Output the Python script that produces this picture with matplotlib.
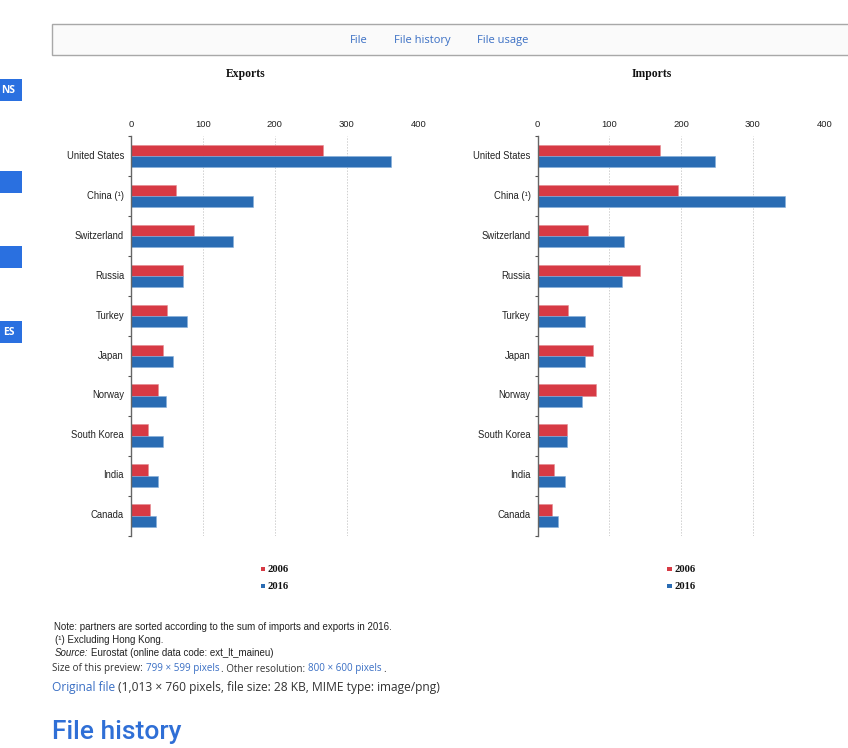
import matplotlib
matplotlib.use("Agg")
import matplotlib.pyplot as plt
from matplotlib.patches import Rectangle
import numpy as np

W, H = 848, 748
partners = ["United States", "China (¹)", "Switzerland", "Russia", "Turkey",
            "Japan", "Norway", "South Korea", "India", "Canada"]
exports_2006 = [267, 63, 88, 72, 50, 44, 38, 23, 24, 26]
exports_2016 = [362, 170, 142, 72, 78, 58, 48, 44, 37, 35]
imports_2006 = [171, 196, 71, 143, 42, 78, 82, 41, 23, 20]
imports_2016 = [247, 345, 121, 118, 66, 66, 62, 41, 38, 28]
x_ticks = [0, 100, 200, 300, 400]
RED, BLUE = "#d73a44", "#2a6cb3"
LINK = "#3a6fc4"

plt.rcParams["font.family"] = ["Liberation Sans", "DejaVu Sans"]
fig = plt.figure(figsize=(W / 100, H / 100), dpi=100, facecolor="white")

def px(x, y, s, size, **kw):
    kw.setdefault("va", "baseline")
    kw.setdefault("color", "#222222")
    fig.text(x / W, 1 - y / H, s, fontsize=size, **kw)

def box(x0, y0, x1, y1, **kw):
    fig.add_artist(Rectangle((x0 / W, 1 - y1 / H), (x1 - x0) / W, (y1 - y0) / H,
                             transform=fig.transFigure, **kw))

def panel(x0, x1, a, b, title):
    ax = fig.add_axes([x0 / W, 1 - 535.5 / H, (x1 - x0) / W, (535.5 - 136) / H])
    y = np.arange(len(partners))
    ax.barh(y - 0.14, a, 0.28, color=RED, edgecolor="#e58a90", linewidth=0.4)
    ax.barh(y + 0.14, b, 0.28, color=BLUE, edgecolor="#85aedb", linewidth=0.4)
    ax.set_xlim(0, 400)
    ax.set_ylim(9.5, -0.5)
    ax.set_xticks(x_ticks)
    ax.xaxis.tick_top()
    ax.tick_params(axis="x", length=0, pad=5, labelsize=6.8, colors="#222222")
    ax.set_yticks(np.arange(-0.5, 10, 1))
    ax.set_yticklabels([])
    ax.tick_params(axis="y", direction="out", length=2, width=0.8, color="#555555")
    for i, name in enumerate(partners):
        ax.annotate(name, (0, i), xycoords=("axes fraction", "data"), xytext=(-5, -2.0),
                    textcoords="offset points", ha="right", va="baseline",
                    fontsize=6.85, color="#222222")
    ax.grid(axis="x", color="#cfcfcf", linewidth=0.7, linestyle=(0, (1.5, 1.5)))
    ax.set_axisbelow(True)
    for s in ("top", "right", "bottom"):
        ax.spines[s].set_visible(False)
    ax.spines["left"].set_color("#666666")
    ax.spines["left"].set_linewidth(1)
    ax.patch.set_alpha(0)
    px(x0 + 114.5, 77, title, 8.4, ha="center", fontfamily="Liberation Serif",
       fontweight="bold", color="#111111")
    for yy, c, lab in [(569, RED, "2006"), (586, BLUE, "2016")]:
        box(x0 + 129.5, yy - 2, x0 + 134, yy + 2, color=c, lw=0)
        px(x0 + 137, yy + 3, lab, 7.6, fontfamily="Liberation Serif",
           fontweight="bold", color="#111111")

panel(131, 418.5, exports_2006, exports_2016, "Exports")
panel(537.5, 824.5, imports_2006, imports_2016, "Imports")

# Surrounding page
box(52, 23.5, 860, 54.5, facecolor="#fafafa", edgecolor="#a8a8a8", linewidth=1)
for x, s in [(359, "File"), (422.5, "File history"), (503, "File usage")]:
    px(x, 43, s, 8.05, ha="center", fontfamily="Open Sans", color=LINK)
for y0, y1, s in [(79, 101, "NS"), (171, 193, ""), (246, 268, ""), (321, 343, "ES")]:
    box(0, y0, 22, y1, color="#2a70e0", lw=0)
    if s:
        px(15, y0 + 14, s, 7.4, ha="right", fontfamily="Open Sans",
           fontweight="bold", color="white")

px(54, 630.5, "Note: partners are sorted according to the sum of imports and exports in 2016.", 7.0)
px(54.5, 643, "(¹) Excluding Hong Kong.", 7.0)
px(54.5, 655.5, "Source:", 7.0, fontstyle="italic")
px(91, 655.5, "Eurostat (online data code: ext_lt_maineu)", 7.0)
px(52, 671.5, "Size of this preview:", 7.1, fontfamily="Open Sans", color="#333333")
px(146.5, 671.5, "799 × 599 pixels", 7.1, fontfamily="Open Sans", color=LINK)
px(221, 671.5, ". Other resolution:", 7.1, fontfamily="Open Sans", color="#333333")
px(308.5, 671.5, "800 × 600 pixels", 7.1, fontfamily="Open Sans", color=LINK)
px(383, 671.5, ".", 7.1, fontfamily="Open Sans", color="#333333")
px(52, 691, "Original file", 8.65, fontfamily="Open Sans", color=LINK)
px(118, 691, "(1,013 × 760 pixels, file size: 28 KB, MIME type: image/png)", 8.68,
   fontfamily="Open Sans", color="#333333")
px(52, 739, "File history", 19, fontfamily="Roboto", fontweight="medium", color="#2f6fd6")

fig.savefig("out.png", dpi=100)
